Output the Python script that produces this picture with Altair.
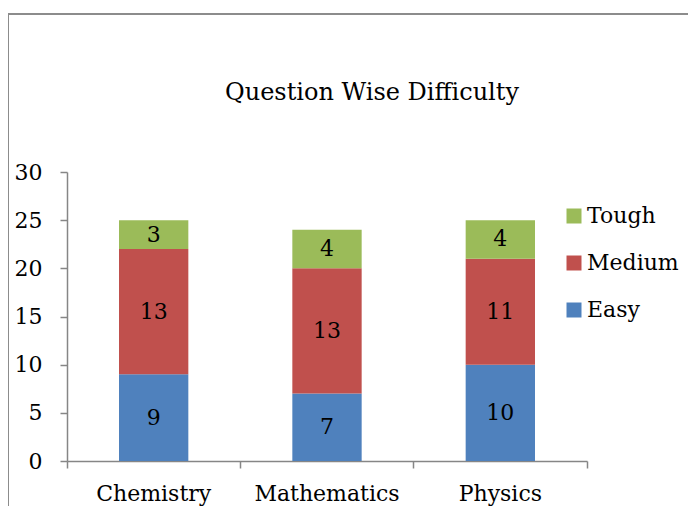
import altair as alt
import pandas as pd

subjects = ["Chemistry", "Mathematics", "Physics"]
levels = ["Easy", "Medium", "Tough"]
easy = [9, 7, 10]
medium = [13, 13, 11]
tough = [3, 4, 4]
legend_order = ["Tough", "Medium", "Easy"]
legend_colors = ["#9BBB59", "#C0504D", "#4F81BD"]
y_ticks = [0, 5, 10, 15, 20, 25, 30]

rows = []
for i, s in enumerate(subjects):
    for k, (lvl, vals) in enumerate(zip(levels, [easy, medium, tough])):
        rows.append({"subject": s, "level": lvl, "value": vals[i], "rank": k})
df = pd.DataFrame(rows)

FONT = "DejaVu Serif"
GRAY = "#868686"

xscale = alt.Scale(domain=subjects, paddingInner=0, paddingOuter=0)
yscale = alt.Scale(domain=[0, 30], nice=False)
yaxis = alt.Axis(title=None, grid=False, values=y_ticks, labelFont=FONT,
                 labelFontSize=22, labelColor="black", labelPadding=18,
                 tickSize=7, tickColor=GRAY, domainColor=GRAY,
                 domainWidth=1.5, tickWidth=1.5)

base = alt.Chart(df).transform_stack(
    stack="value", groupby=["subject"], as_=["v0", "v1"], sort=[alt.SortField("rank")]
).transform_calculate(mid="(datum.v0 + datum.v1) / 2")

bars = base.mark_bar(width=alt.RelativeBandSize(0.4)).encode(
    x=alt.X(
        "subject:N", scale=xscale, sort=subjects,
        axis=alt.Axis(orient="bottom", title=None, ticks=False, labelAngle=0,
                      labelFont=FONT, labelFontSize=22, labelColor="black",
                      labelPadding=22, domainColor=GRAY, domainWidth=1.5),
    ),
    y=alt.Y("v0:Q", scale=yscale, axis=yaxis),
    y2="v1:Q",
    color=alt.Color(
        "level:N",
        scale=alt.Scale(domain=legend_order, range=legend_colors),
        legend=alt.Legend(title=None, orient="none", legendX=496, legendY=33,
                          symbolType="square", symbolSize=225, symbolStrokeWidth=0,
                          labelFont=FONT, labelFontSize=22, labelColor="black",
                          rowPadding=25, labelOffset=2, padding=0),
    ),
)

labels = base.mark_text(font=FONT, fontSize=22, color="black", baseline="middle").encode(
    x=alt.X(
        "subject:N", scale=xscale, sort=subjects,
        axis=alt.Axis(orient="bottom", title=None, labels=False, domain=False,
                      ticks=True, tickSize=7, tickColor=GRAY, tickWidth=1.5,
                      bandPosition=1, tickExtra=True),
    ),
    y=alt.Y("mid:Q", scale=yscale, axis=yaxis),
    text="value:Q",
)

frame = alt.Chart(pd.DataFrame({"f": [0]})).mark_rect(
    fill=None, stroke="#8c8c8c", strokeWidth=2
).encode(x=alt.value(-59), x2=alt.value(800), y=alt.value(-158), y2=alt.value(600))

chart = alt.layer(frame, bars, labels).resolve_axis(x="independent").properties(
    width=520, height=289,
    autosize=alt.AutoSizeParams(type="none"),
    padding={"left": 59, "top": 164, "right": 101, "bottom": 45},
    title=alt.TitleParams("Question Wise Difficulty", font=FONT, fontSize=24,
                          fontWeight="normal", color="black", dx=45, offset=-92,
                          frame="group"),
).configure(background="white", view=alt.ViewConfig(stroke=None))

chart.save("out.html", embed_options={"renderer": "svg", "actions": False})
